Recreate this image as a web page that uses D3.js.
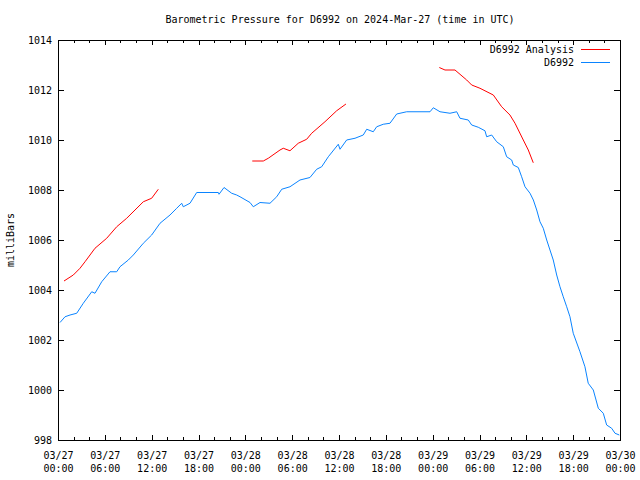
<!DOCTYPE html>
<html><head><meta charset="utf-8">
<script src="https://cdn.jsdelivr.net/npm/d3@7"></script>
<style>
body{margin:0;background:#fff}
svg text{font-family:"DejaVu Sans Mono","Liberation Mono",monospace;font-size:10px;fill:#000}
</style>
</head><body><svg id="c" width="640" height="480"></svg>
<script>
// hours since 2024-03-27 00:00 UTC
const blueHours=[0.26,0.90,1.54,2.40,3.24,4.32,4.74,5.60,6.66,7.52,7.94,9.01,9.65,10.93,12.00,13.07,14.35,15.21,15.85,16.05,16.91,17.77,20.54,20.63,21.27,22.25,22.89,23.32,24.60,25.02,25.88,27.16,28.02,28.66,29.72,31.00,32.28,33.14,33.78,34.63,35.91,36.13,36.98,38.05,39.11,39.55,40.39,40.83,41.67,42.53,43.39,44.67,47.66,48.08,48.94,50.22,51.08,51.50,52.56,53.00,53.84,54.70,54.92,55.56,56.20,57.05,57.48,58.12,58.33,58.97,59.40,59.83,60.47,60.90,61.33,61.75,62.17,62.61,63.03,63.45,63.89,64.31,64.73,65.17,65.59,66.01,66.87,67.51,67.93,68.58,69.22,69.86,70.29,70.93,71.36,71.91];
const bluePressure=[1002.70,1002.93,1003.00,1003.07,1003.47,1003.93,1003.87,1004.33,1004.73,1004.73,1004.93,1005.20,1005.40,1005.87,1006.20,1006.67,1007.00,1007.27,1007.47,1007.33,1007.47,1007.90,1007.90,1007.83,1008.10,1007.87,1007.80,1007.73,1007.50,1007.33,1007.50,1007.47,1007.73,1008.03,1008.13,1008.40,1008.50,1008.83,1008.93,1009.33,1009.83,1009.63,1010.00,1010.07,1010.20,1010.43,1010.33,1010.53,1010.63,1010.67,1011.04,1011.13,1011.13,1011.29,1011.13,1011.07,1011.13,1010.87,1010.80,1010.60,1010.51,1010.37,1010.13,1010.20,1009.93,1009.73,1009.33,1009.20,1009.00,1008.90,1008.53,1008.13,1007.87,1007.60,1007.20,1006.73,1006.47,1006.00,1005.60,1005.20,1004.60,1004.13,1003.73,1003.33,1002.93,1002.27,1001.53,1000.93,1000.27,1000.00,999.27,999.07,998.60,998.47,998.27,998.20];
// null marks a gap in the analysis series
const redHours=[0.77,1.96,2.82,3.46,4.10,4.74,6.24,7.52,8.80,10.93,12.00,12.85,18.0,24.89,26.30,26.94,28.44,28.86,29.72,30.78,31.86,32.50,34.20,35.70,36.89,42.0,48.85,49.58,50.86,52.36,53.00,54.06,55.77,56.84,57.90,58.55,59.61,60.25,60.89];
const redPressure=[1004.36,1004.60,1004.87,1005.13,1005.40,1005.67,1006.07,1006.53,1006.87,1007.53,1007.67,1008.03,null,1009.16,1009.16,1009.27,1009.60,1009.67,1009.57,1009.87,1010.03,1010.27,1010.73,1011.17,1011.44,null,1012.90,1012.80,1012.80,1012.40,1012.20,1012.07,1011.80,1011.33,1011.00,1010.67,1010.00,1009.60,1009.09];
const yTicks=[998,1000,1002,1004,1006,1008,1010,1012,1014];
const xMajorHours=[0,6,12,18,24,30,36,42,48,54,60,66,72];
const xMinorHours=d3.range(0,73,2);
const seriesNames=["D6992 Analysis","D6992"];
const seriesColors=["#ff0000","#0a84ff"];
const titleText="Barometric Pressure for D6992 on 2024-Mar-27 (time in UTC)";
const yLabel="milliBars";

const t0=Date.UTC(2024,2,27);
const toDate=h=>new Date(t0+h*3600e3);
const svg=d3.select("#c");
const L=58,R=620,T=40,B=440;
const x=d3.scaleUtc().domain([toDate(0),toDate(72)]).range([L,R]);
const y=d3.scaleLinear().domain([998,1014]).range([B,T]);

const fmtD=d3.utcFormat("%m/%d"), fmtT=d3.utcFormat("%H:%M");
// minor ticks
svg.append("g").attr("transform",`translate(0,${B})`)
  .call(d3.axisBottom(x).tickValues(xMinorHours.map(toDate)).tickSize(-3).tickFormat(""));
svg.append("g").attr("transform",`translate(0,${T})`)
  .call(d3.axisTop(x).tickValues(xMinorHours.map(toDate)).tickSize(-3).tickFormat(""));
// major x ticks
const gx=svg.append("g").attr("transform",`translate(0,${B})`)
  .call(d3.axisBottom(x).tickValues(xMajorHours.map(toDate)).tickSize(-5).tickPadding(0).tickFormat(""));
gx.selectAll(".tick").append("text").attr("text-anchor","middle")
  .each(function(d){
    const t=d3.select(this);
    t.append("tspan").attr("x",0).attr("y",18.5).text(fmtD(d));
    t.append("tspan").attr("x",0).attr("y",31.5).text(fmtT(d));
  });
svg.append("g").attr("transform",`translate(0,${T})`)
  .call(d3.axisTop(x).tickValues(xMajorHours.map(toDate)).tickSize(-5).tickFormat(""));
// y axes
svg.append("g").attr("transform",`translate(${L},0)`)
  .call(d3.axisLeft(y).tickValues(yTicks).tickSize(-6).tickPadding(6).tickFormat(d3.format("d")));
svg.append("g").attr("transform",`translate(${R},0)`)
  .call(d3.axisRight(y).tickValues(yTicks).tickSize(-6).tickFormat(""));
svg.selectAll(".domain").remove();
svg.selectAll(".tick line").attr("stroke","#000").attr("shape-rendering","crispEdges");
svg.selectAll(".tick text").attr("fill","#000").attr("font-size",null).attr("font-family",null);
svg.append("rect").attr("x",L).attr("y",T).attr("width",R-L).attr("height",B-T)
  .attr("fill","none").attr("stroke","#000").attr("shape-rendering","crispEdges");

const line=d3.line().defined(d=>d.p!=null).x(d=>x(toDate(d.h))).y(d=>y(d.p));
const red=redHours.map((h,i)=>({h,p:redPressure[i]}));
const blue=blueHours.map((h,i)=>({h,p:bluePressure[i]}));
svg.append("path").datum(blue).attr("d",line).attr("fill","none").attr("stroke",seriesColors[1]).attr("stroke-width",1);
svg.append("path").datum(red).attr("d",line).attr("fill","none").attr("stroke",seriesColors[0]).attr("stroke-width",1);

svg.append("text").attr("x",340).attr("y",23).attr("text-anchor","middle").text(titleText);
svg.append("text").attr("transform","translate(14,240) rotate(-90)").attr("text-anchor","middle").text(yLabel);

seriesNames.forEach((n,i)=>{
  const yy=49.5+i*13;
  svg.append("text").attr("x",574).attr("y",yy+3.5).attr("text-anchor","end").text(n);
  svg.append("line").attr("x1",581).attr("x2",610).attr("y1",yy).attr("y2",yy)
    .attr("stroke",seriesColors[i]).attr("stroke-width",1);
});
</script></body></html>
